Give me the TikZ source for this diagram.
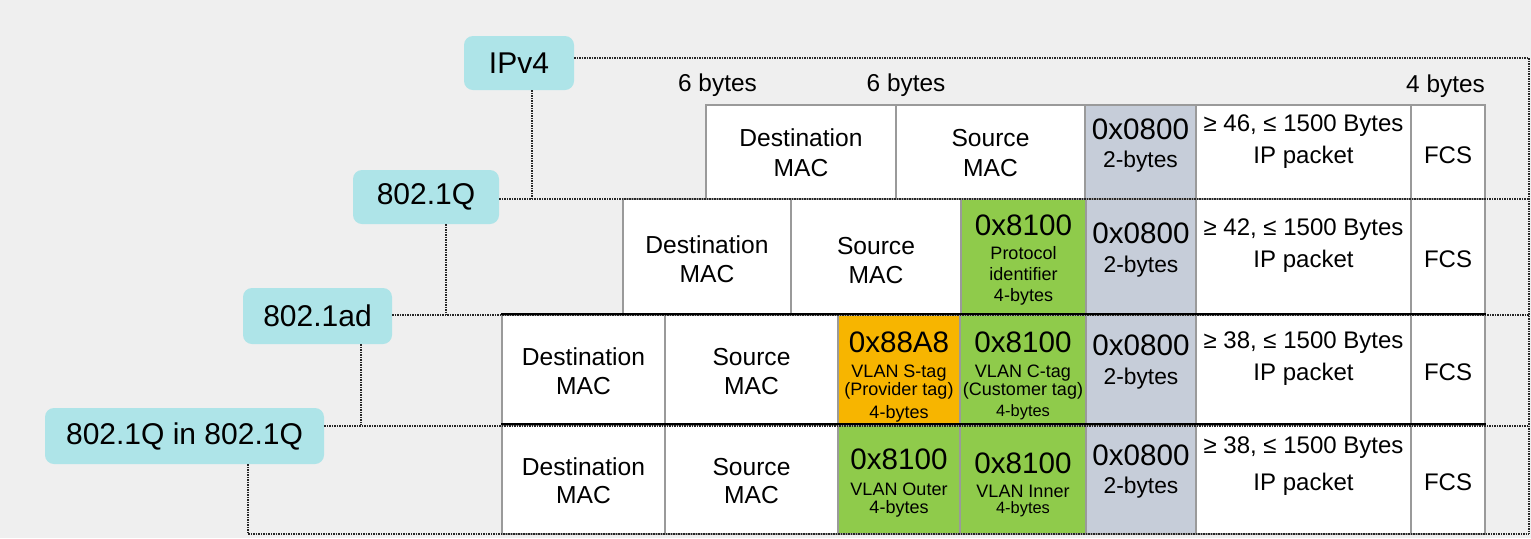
\documentclass[tikz,border=0pt]{standalone}
\usepackage{fontspec}
\setmainfont{Liberation Sans}
\usetikzlibrary{fit}
\definecolor{bg}{HTML}{EFEFEF}
\definecolor{lab}{HTML}{AEE4E8}
\definecolor{grn}{HTML}{8FCB4B}
\definecolor{org}{HTML}{F7B500}
\definecolor{gbl}{HTML}{C6CDD9}
\definecolor{cline}{HTML}{9A9A9A}
\definecolor{dots}{HTML}{262626}
\newcommand\mkcell[6]{\node[cellbox, fill=#6, fit={(#2,#3) (#4,#5)}] (#1) {};}
\newcommand\tline[5]{\node[tb,#4] (#1) at (#2,#3) {#5};}
\begin{document}
\begin{tikzpicture}[x=0.5pt,y=-0.5pt,
  lbl/.style={fill=lab, rounded corners=4.5pt, inner sep=0pt, font=\fontsize{15}{18}\selectfont},
  cellbox/.style={draw=cline, line width=0.8pt, inner sep=0pt},
  frameline/.style={draw=dots, line width=1.1pt, dash pattern=on 0.7pt off 0.55pt},
  rowsep/.style={draw=black, line width=1.1pt},
  tb/.style={anchor=base, inner sep=0pt},
  fby/.style={font=\fontsize{12.2}{14}\selectfont},
  fmac/.style={font=\fontsize{12.3}{14}\selectfont},
  fhex/.style={font=\fontsize{14.8}{17}\selectfont},
  ftwo/.style={font=\fontsize{11.4}{13}\selectfont},
  fpay/.style={font=\fontsize{12}{14}\selectfont},
  fsm/.style={font=\fontsize{9}{11}\selectfont},
  fxs/.style={font=\fontsize{8.2}{10}\selectfont}]
\useasboundingbox (0,0) rectangle (1531,538);
\fill[bg] (0,0) rectangle (1531,538);

% labels
\node[lbl, minimum width=55pt, minimum height=27pt] (ipv4) at (519,63) {IPv4};
\node[lbl, minimum width=73pt, minimum height=27pt] (q) at (426,197) {802.1Q};
\node[lbl, minimum width=74.5pt, minimum height=28pt] (ad) at (317.5,316) {802.1ad};
\node[lbl, minimum width=139.5pt, minimum height=28pt] (qq) at (184.5,436) {802.1Q in 802.1Q};

% row 1
\mkcell{d1}{706}{105}{896}{199}{white}
\mkcell{s1}{896}{105}{1085}{199}{white}
\mkcell{e1}{1085}{105}{1196}{199}{gbl}
\mkcell{p1}{1196}{105}{1411}{199}{white}
\mkcell{f1}{1411}{105}{1485}{199}{white}
% row 2
\mkcell{d2}{623}{199}{791}{315}{white}
\mkcell{s2}{791}{199}{961}{315}{white}
\mkcell{t2}{961}{199}{1086}{315}{grn}
\mkcell{e2}{1086}{199}{1196}{315}{gbl}
\mkcell{p2}{1196}{199}{1411}{315}{white}
\mkcell{f2}{1411}{199}{1485}{315}{white}
% row 3
\mkcell{d3}{502}{315}{665}{425}{white}
\mkcell{s3}{665}{315}{838}{425}{white}
\mkcell{o3}{838}{315}{960}{425}{org}
\mkcell{t3}{960}{315}{1086}{425}{grn}
\mkcell{e3}{1086}{315}{1196}{425}{gbl}
\mkcell{p3}{1196}{315}{1411}{425}{white}
\mkcell{f3}{1411}{315}{1485}{425}{white}
% row 4
\mkcell{d4}{502}{425}{665}{534}{white}
\mkcell{s4}{665}{425}{838}{534}{white}
\mkcell{g4}{838}{425}{960}{534}{grn}
\mkcell{t4}{960}{425}{1086}{534}{grn}
\mkcell{e4}{1086}{425}{1196}{534}{gbl}
\mkcell{p4}{1196}{425}{1411}{534}{white}
\mkcell{f4}{1411}{425}{1485}{534}{white}

% dotted frame lines
\coordinate (rt1) at (1529,58);
\coordinate (rt2) at (1529,199);
\coordinate (rt3) at (1529,315);
\coordinate (rt4) at (1529,426);
\coordinate (rb) at (1529,534);
\coordinate (v1) at (532,199);
\coordinate (v2) at (446,315);
\coordinate (v3) at (361,425);
\coordinate (v4) at (248,534);
\draw[frameline] (ipv4.east |- rt1) -- (rt1) -- (rb);
\draw[frameline] (ipv4.south -| v1) -- (v1);
\draw[frameline] (q.east |- rt2) -- (rt2);
\draw[frameline] (q.south -| v2) -- (v2);
\draw[frameline] (ad.east |- rt3) -- (rt3);
\draw[frameline] (ad.south -| v3) -- (v3);
\draw[frameline] (qq.east |- rt4) -- (rt4);
\draw[frameline] (qq.south -| v4) -- (v4) -- (rb);

% solid row separators
\draw[rowsep] (d3.north west) -- (f3.north east);
\draw[rowsep] (d4.north west) -- (f4.north east);

% byte sizes
\tline{b6a}{717.5}{91}{fby}{6 bytes}
\tline{b6b}{906}{91}{fby}{6 bytes}
\tline{b4}{1445.5}{92}{fby}{4 bytes}

% row 1 texts
\tline{d1a}{801}{146}{fmac}{Destination}
\tline{d1b}{801}{176}{fmac}{MAC}
\tline{s1a}{990.5}{146}{fmac}{Source}
\tline{s1b}{990.5}{176}{fmac}{MAC}
\tline{e1a}{1140.5}{139}{fhex}{0x0800}
\tline{e1b}{1140.5}{167}{ftwo}{2-bytes}
\tline{p1a}{1303.5}{131}{fpay}{≥ 46, ≤ 1500 Bytes}
\tline{p1b}{1303.5}{163}{fpay}{IP packet}
\tline{f1a}{1448}{163}{fpay}{FCS}

% row 2 texts
\tline{d2a}{707}{253}{fmac}{Destination}
\tline{d2b}{707}{282}{fmac}{MAC}
\tline{s2a}{876}{254}{fmac}{Source}
\tline{s2b}{876}{283}{fmac}{MAC}
\tline{t2a}{1023.5}{235}{fhex}{0x8100}
\tline{t2b}{1023.5}{259}{fsm}{Protocol}
\tline{t2c}{1023.5}{280}{fsm}{identifier}
\tline{t2d}{1023.5}{301}{fsm}{4-bytes}
\tline{e2a}{1141}{243}{fhex}{0x0800}
\tline{e2b}{1141}{272}{ftwo}{2-bytes}
\tline{p2a}{1303.5}{235}{fpay}{≥ 42, ≤ 1500 Bytes}
\tline{p2b}{1303.5}{267}{fpay}{IP packet}
\tline{f2a}{1448}{267}{fpay}{FCS}

% row 3 texts
\tline{d3a}{583.5}{365}{fmac}{Destination}
\tline{d3b}{583.5}{394}{fmac}{MAC}
\tline{s3a}{751.5}{365}{fmac}{Source}
\tline{s3b}{751.5}{394}{fmac}{MAC}
\tline{o3a}{899}{352}{fhex}{0x88A8}
\tline{o3b}{899}{377}{fsm}{VLAN S-tag}
\tline{o3c}{899}{395}{fsm}{(Provider tag)}
\tline{o3d}{899}{418}{fsm}{4-bytes}
\tline{t3a}{1023}{352}{fhex}{0x8100}
\tline{t3b}{1023}{377}{fsm}{VLAN C-tag}
\tline{t3c}{1023}{395}{fsm}{(Customer tag)}
\tline{t3d}{1023}{416}{fxs}{4-bytes}
\tline{e3a}{1141}{355}{fhex}{0x0800}
\tline{e3b}{1141}{384}{ftwo}{2-bytes}
\tline{p3a}{1303.5}{348}{fpay}{≥ 38, ≤ 1500 Bytes}
\tline{p3b}{1303.5}{380}{fpay}{IP packet}
\tline{f3a}{1448}{380}{fpay}{FCS}

% row 4 texts
\tline{d4a}{583.5}{475}{fmac}{Destination}
\tline{d4b}{583.5}{503}{fmac}{MAC}
\tline{s4a}{751.5}{475}{fmac}{Source}
\tline{s4b}{751.5}{503}{fmac}{MAC}
\tline{g4a}{899}{469}{fhex}{0x8100}
\tline{g4b}{899}{495}{fsm}{VLAN Outer}
\tline{g4c}{899}{513}{fsm}{4-bytes}
\tline{t4a}{1023}{473}{fhex}{0x8100}
\tline{t4b}{1023}{497}{fsm}{VLAN Inner}
\tline{t4c}{1023}{513}{fxs}{4-bytes}
\tline{e4a}{1141}{465}{fhex}{0x0800}
\tline{e4b}{1141}{493}{ftwo}{2-bytes}
\tline{p4a}{1303.5}{453}{fpay}{≥ 38, ≤ 1500 Bytes}
\tline{p4b}{1303.5}{490}{fpay}{IP packet}
\tline{f4a}{1448}{490}{fpay}{FCS}
\end{tikzpicture}
\end{document}
